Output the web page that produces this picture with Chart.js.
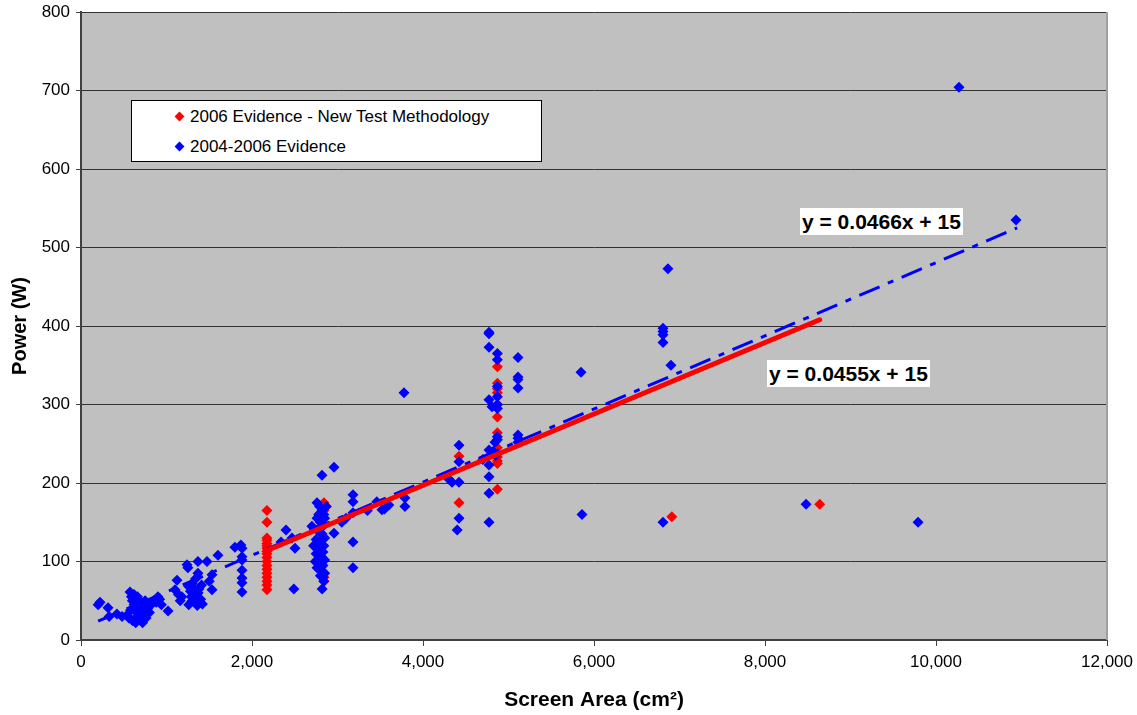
<!DOCTYPE html>
<html>
<head>
<meta charset="utf-8">
<script src="https://cdn.jsdelivr.net/npm/chart.js@4.4.1/dist/chart.umd.min.js"></script>
<style>
  html, body { margin: 0; padding: 0; background: #fff; }
  #wrap { position: relative; width: 1137px; height: 715px; font-family: "Liberation Sans", Arial, sans-serif; }
  .legend { position: absolute; left: 131px; top: 100px; width: 409px; height: 60px; background: #fff; border: 1px solid #000; }
  .legend .row { position: absolute; left: 42px; font-size: 17px; line-height: 20px; color: #000; white-space: nowrap; }
  .legend .dia { display: inline-block; width: 7px; height: 7px; transform: rotate(45deg); margin: 0 7px 2px 2px; vertical-align: middle; }
  .eq { position: absolute; background: #fff; font-weight: bold; font-size: 21px; line-height: 27px; height: 27px; padding: 0 2px; color: #000; white-space: nowrap; }
</style>
</head>
<body>
<div id="wrap">
  <canvas id="chart" width="1137" height="715"></canvas>
  <div class="legend">
    <div class="row" style="top:6px"><span class="dia" style="background:#ff0000"></span>2006 Evidence - New Test Methodology</div>
    <div class="row" style="top:36px"><span class="dia" style="background:#0000ff"></span>2004-2006 Evidence</div>
  </div>
  <div class="eq" style="left:800px; top:208px">y = 0.0466x + 15</div>
  <div class="eq" style="left:767px; top:360px">y = 0.0455x + 15</div>
</div>
<script>
// screen area (cm2), power (W)
const redPoints = [
  [2175, 165], [2175, 150], [2175, 130], [2175, 127], [2175, 123], [2175, 120], [2175, 117],
  [2175, 113], [2175, 110], [2175, 105], [2175, 100], [2175, 95], [2175, 90], [2175, 85],
  [2175, 80], [2175, 75], [2175, 70], [2175, 64],
  [2842, 175], [2842, 165], [2842, 85], [2842, 80], [2842, 75],
  [4421, 175], [4421, 234],
  [4870, 348], [4870, 327], [4870, 320], [4870, 315], [4870, 300], [4870, 284], [4870, 264],
  [4870, 245], [4870, 233], [4870, 228], [4870, 225], [4870, 192],
  [6910, 157], [8640, 173],
];

const bluePoints = [
  // small screens
  [222, 48], [200, 45], [316, 41], [330, 30], [420, 33], [480, 30], [540, 32], [560, 28],
  [573, 61], [590, 55], [600, 50], [620, 45], [640, 40], [650, 35], [660, 30], [680, 27],
  [700, 25], [710, 32], [720, 38], [730, 42], [700, 48], [750, 50], [760, 45], [780, 40],
  [800, 35], [820, 45], [850, 50], [880, 48], [900, 55], [920, 52], [940, 45], [1018, 37],
  [620, 58], [660, 55], [760, 28], [580, 38], [600, 25], [640, 22], [720, 22],
  [1123, 76], [1100, 64], [1140, 58], [1160, 50], [1180, 55], [1240, 96], [1250, 92],
  [1260, 68], [1280, 62], [1290, 55], [1300, 50], [1300, 72], [1320, 66], [1330, 60],
  [1340, 55], [1350, 48], [1360, 44], [1370, 60], [1380, 65], [1368, 100], [1368, 85],
  [1400, 52], [1410, 70], [1420, 46], [1474, 100], [1532, 83], [1532, 64], [1500, 75],
  [1602, 108], [1260, 45], [1340, 78],
  [1800, 118], [1883, 117], [1870, 121], [1883, 106], [1883, 102], [1883, 89], [1883, 79],
  [1883, 73], [1883, 61],
  [2398, 140], [2468, 130], [2503, 117], [2490, 65], [2340, 125],
  // 2800 cm2 column
  [2760, 175], [2790, 170], [2820, 165], [2840, 160], [2760, 155], [2800, 150], [2830, 145],
  [2760, 140], [2790, 138], [2820, 135], [2850, 130], [2750, 128], [2780, 125], [2810, 122],
  [2840, 120], [2760, 118], [2800, 115], [2830, 112], [2750, 110], [2790, 108], [2820, 105],
  [2850, 102], [2760, 100], [2800, 98], [2830, 95], [2760, 92], [2790, 90], [2820, 88],
  [2850, 85], [2800, 82], [2830, 80], [2840, 75], [2820, 65], [2819, 210], [2959, 220],
  [2700, 145], [2720, 120], [2740, 100], [2850, 155], [2870, 170], [2780, 160],
  [2959, 136], [3181, 185], [3181, 176], [3181, 162], [3181, 125], [3181, 92], [3050, 150],
  [3100, 155],
  [3460, 176], [3520, 166], [3550, 167], [3600, 172], [3789, 181], [3789, 170], [3778, 315],
  [3350, 165],
  [4339, 201], [4421, 248], [4421, 227], [4421, 201], [4421, 155], [4400, 140], [4300, 205],
  [4772, 392], [4772, 390], [4772, 373], [4772, 306], [4772, 242], [4772, 223], [4772, 208],
  [4772, 187], [4772, 150], [4807, 297], [4842, 252], [4820, 240], [4700, 230],
  [4870, 365], [4870, 357], [4870, 323], [4870, 310], [4870, 295], [4870, 259], [4870, 255],
  [4870, 300], [4850, 235],
  [5111, 360], [5111, 335], [5111, 332], [5111, 321], [5111, 261], [5111, 257], [5111, 252],
  [5848, 341], [5860, 160],
  [6807, 397], [6807, 393], [6807, 389], [6807, 379], [6865, 473], [6900, 350], [6807, 150],
  [8480, 173], [9790, 150], [10269, 704], [10936, 535],
];

// trend line end points
const redTrend = [[2175, 114], [8640, 408]];
const blueTrend = [[200, 24], [10950, 525]];

const xTicks = { min: 0, max: 12000, step: 2000 };
const yTicks = { min: 0, max: 800, step: 100 };

const FONT = "'Liberation Sans', Arial, sans-serif";
const toXY = (arr) => arr.map(([x, y]) => ({ x, y }));

const plotBg = {
  id: "plotBg",
  beforeDraw(chart) {
    const { ctx, chartArea: a } = chart;
    ctx.save();
    ctx.fillStyle = "#c0c0c0";
    ctx.fillRect(a.left, a.top, a.right - a.left, a.bottom - a.top);
    ctx.restore();
  },
  afterDraw(chart) {
    const { ctx, chartArea: a } = chart;
    ctx.save();
    ctx.strokeStyle = "#a0a0a0";
    ctx.lineWidth = 2;
    ctx.beginPath();
    ctx.moveTo(a.right, a.top);
    ctx.lineTo(a.right, a.bottom);
    ctx.stroke();
    ctx.restore();
  },
};

new Chart(document.getElementById("chart"), {
  type: "scatter",
  data: {
    datasets: [
      { label: "red trend", data: toXY(redTrend), showLine: true, borderColor: "#ff0000", borderWidth: 5,
        pointRadius: 0, borderCapStyle: "round", order: 0 },
      { label: "blue trend", data: toXY(blueTrend), showLine: true, borderColor: "#0000ff", borderWidth: 3,
        borderDash: [22, 9, 6, 9], pointRadius: 0, order: 1 },
      { label: "2004-2006 Evidence", data: toXY(bluePoints), pointStyle: "rectRot", pointRadius: 5.5,
        backgroundColor: "#0000ff", borderColor: "#0000ff", borderWidth: 0, order: 2 },
      { label: "2006 Evidence - New Test Methodology", data: toXY(redPoints), pointStyle: "rectRot", pointRadius: 5.5,
        backgroundColor: "#ff0000", borderColor: "#ff0000", borderWidth: 0, order: 3 },
    ],
  },
  options: {
    responsive: false,
    animation: false,
    devicePixelRatio: 1,
    layout: { padding: { top: 12, right: 30, left: 0, bottom: 0 } },
    plugins: { legend: { display: false }, tooltip: { enabled: false } },
    scales: {
      x: {
        type: "linear", min: xTicks.min, max: xTicks.max,
        afterFit: (s) => { s.height = 75; s.paddingRight = 0; s.paddingLeft = 0; },
        ticks: { stepSize: xTicks.step, color: "#000", padding: 6, font: { family: FONT, size: 17 },
                 callback: (v) => v.toLocaleString("en-US") },
        grid: { drawOnChartArea: false, tickLength: 6, tickColor: "#404040" },
        border: { color: "#404040", width: 2 },
        title: { display: true, text: "Screen Area (cm²)", color: "#000", padding: { top: 0, bottom: 2 },
                 font: { family: FONT, size: 21, weight: "bold" } },
      },
      y: {
        min: yTicks.min, max: yTicks.max,
        afterFit: (s) => { s.width = 81; s.paddingTop = 0; s.paddingBottom = 0; },
        ticks: { stepSize: yTicks.step, color: "#000", padding: 6, font: { family: FONT, size: 17 } },
        grid: { color: "#333", lineWidth: 1, tickLength: 5, tickColor: "#404040" },
        border: { color: "#404040", width: 2 },
        title: { display: true, text: "Power (W)", color: "#000", padding: { top: 8, bottom: 0 },
                 font: { family: FONT, size: 20, weight: "bold" } },
      },
    },
  },
  plugins: [plotBg],
});
</script>
</body>
</html>
